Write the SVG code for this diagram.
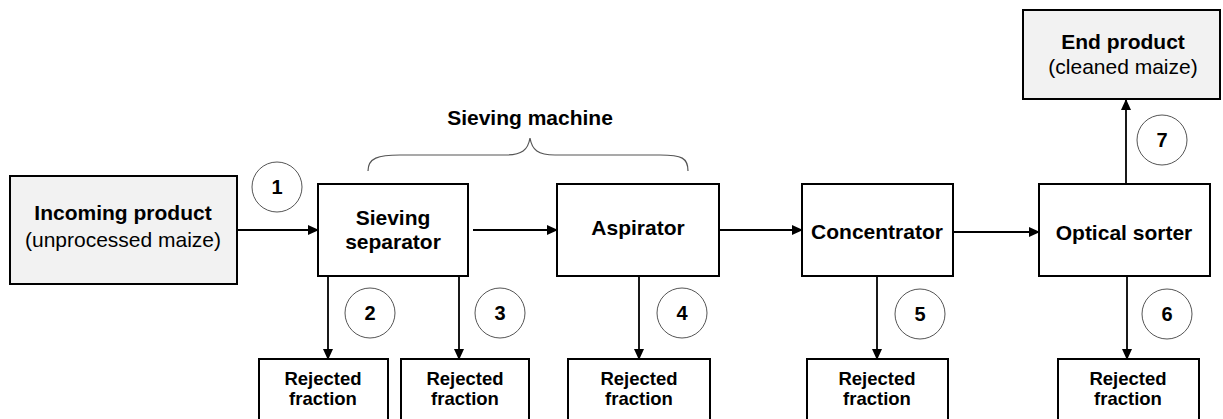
<svg xmlns="http://www.w3.org/2000/svg" width="1223" height="419" viewBox="0 0 1223 419">
<defs>
<marker id="ah" markerWidth="11" markerHeight="11" refX="10" refY="5.5" orient="auto" markerUnits="userSpaceOnUse">
<path d="M0,0.5 L11,5.5 L0,10.5 Z" fill="#000"/>
</marker>
<style>
.box{fill:#fff;stroke:#000;stroke-width:2}
.gbox{fill:#f2f2f2;stroke:#000;stroke-width:2}
.circ{fill:#fff;stroke:#555;stroke-width:1}
.b{font-family:"Liberation Sans",Arial,sans-serif;font-weight:bold;text-anchor:middle;fill:#000}
.r{font-family:"Liberation Sans",Arial,sans-serif;text-anchor:middle;fill:#000}
.ln{stroke:#000;stroke-width:1.8;fill:none}
</style>
</defs>
<rect width="1223" height="419" fill="#fff"/>

<g id="connectors">
<line class="ln" x1="237" y1="230" x2="318" y2="230" marker-end="url(#ah)"/>
<line class="ln" x1="473" y1="230" x2="557" y2="230" marker-end="url(#ah)"/>
<line class="ln" x1="719" y1="230" x2="802" y2="230" marker-end="url(#ah)"/>
<line class="ln" x1="953" y1="232" x2="1039" y2="232" marker-end="url(#ah)"/>
<line class="ln" x1="1126" y1="184" x2="1126" y2="100" marker-end="url(#ah)"/>
<line class="ln" x1="328" y1="276" x2="328" y2="359" marker-end="url(#ah)"/>
<line class="ln" x1="459" y1="276" x2="459" y2="359" marker-end="url(#ah)"/>
<line class="ln" x1="639" y1="276" x2="639" y2="359" marker-end="url(#ah)"/>
<line class="ln" x1="877" y1="276" x2="877" y2="359" marker-end="url(#ah)"/>
<line class="ln" x1="1127" y1="276" x2="1127" y2="359" marker-end="url(#ah)"/>
</g>

<g id="brace">
<path d="M368,171 C368,158 378,155 400,155 L505,155 C522,155 528,150 530,138 C532,150 538,155 555,155 L660,155 C682,155 688,158 688,171" fill="none" stroke="#555" stroke-width="1.2"/>
<text class="b" x="530" y="125" font-size="21">Sieving machine</text>
</g>

<g id="incoming">
<rect class="gbox" x="10" y="176" width="227" height="108"/>
<text class="b" x="123" y="220" font-size="21">Incoming product</text>
<text class="r" x="123" y="247" font-size="21">(unprocessed maize)</text>
</g>

<g id="sieving-separator">
<rect class="box" x="318" y="184" width="150" height="92"/>
<text class="b" x="393" y="225" font-size="21">Sieving</text>
<text class="b" x="393" y="249" font-size="21">separator</text>
</g>

<g id="aspirator">
<rect class="box" x="557" y="184" width="162" height="92"/>
<text class="b" x="638" y="235" font-size="21">Aspirator</text>
</g>

<g id="concentrator">
<rect class="box" x="802" y="184" width="151" height="92"/>
<text class="b" x="877" y="239" font-size="21">Concentrator</text>
</g>

<g id="optical-sorter">
<rect class="box" x="1039" y="184" width="171" height="92"/>
<text class="b" x="1124" y="240" font-size="21">Optical sorter</text>
</g>

<g id="end-product">
<rect class="gbox" x="1023" y="10" width="197" height="89"/>
<text class="b" x="1123" y="49" font-size="21">End product</text>
<text class="r" x="1123" y="74" font-size="21">(cleaned maize)</text>
</g>

<g id="rejected-2">
<rect class="box" x="259" y="359" width="129" height="70"/>
<text class="b" x="323" y="385" font-size="18.5">Rejected</text>
<text class="b" x="323" y="405" font-size="18.5">fraction</text>
</g>
<g id="rejected-3">
<rect class="box" x="401" y="359" width="128" height="70"/>
<text class="b" x="465" y="385" font-size="18.5">Rejected</text>
<text class="b" x="465" y="405" font-size="18.5">fraction</text>
</g>
<g id="rejected-4">
<rect class="box" x="568" y="359" width="142" height="70"/>
<text class="b" x="639" y="385" font-size="18.5">Rejected</text>
<text class="b" x="639" y="405" font-size="18.5">fraction</text>
</g>
<g id="rejected-5">
<rect class="box" x="807" y="359" width="141" height="70"/>
<text class="b" x="877" y="385" font-size="18.5">Rejected</text>
<text class="b" x="877" y="405" font-size="18.5">fraction</text>
</g>
<g id="rejected-6">
<rect class="box" x="1058" y="359" width="141" height="70"/>
<text class="b" x="1128" y="385" font-size="18.5">Rejected</text>
<text class="b" x="1128" y="405" font-size="18.5">fraction</text>
</g>

<g id="step-1"><circle class="circ" cx="277" cy="187" r="25"/><text class="b" x="277" y="194" font-size="20">1</text></g>
<g id="step-2"><circle class="circ" cx="370" cy="313" r="25"/><text class="b" x="370" y="320" font-size="20">2</text></g>
<g id="step-3"><circle class="circ" cx="500" cy="313" r="25"/><text class="b" x="500" y="320" font-size="20">3</text></g>
<g id="step-4"><circle class="circ" cx="682" cy="313" r="25"/><text class="b" x="682" y="320" font-size="20">4</text></g>
<g id="step-5"><circle class="circ" cx="920" cy="314" r="25"/><text class="b" x="920" y="321" font-size="20">5</text></g>
<g id="step-6"><circle class="circ" cx="1167" cy="314" r="25"/><text class="b" x="1167" y="321" font-size="20">6</text></g>
<g id="step-7"><circle class="circ" cx="1162" cy="140" r="25"/><text class="b" x="1162" y="147" font-size="20">7</text></g>
</svg>
